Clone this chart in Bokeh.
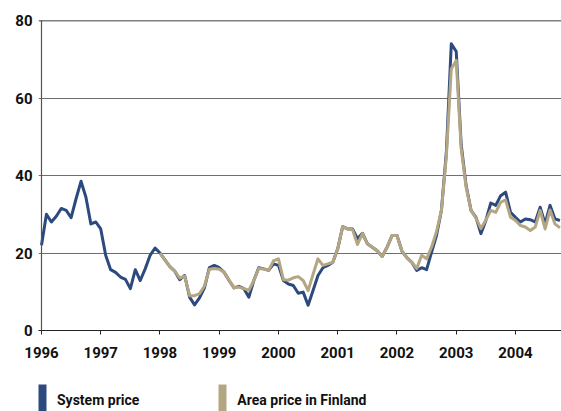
import numpy as np
from bokeh.plotting import figure
from bokeh.layouts import column
from bokeh.models import FixedTicker, Span, Legend, LegendItem, Range1d
from bokeh.embed import file_html
from bokeh.resources import INLINE

# ---- data ----
year_ticks = [1996, 1997, 1998, 1999, 2000, 2001, 2002, 2003, 2004]
year_labels = ["1996", "1997", "1998", "1999", "2000", "2001", "2002", "2003", "2004"]
value_ticks = [0, 20, 40, 60, 80]

system_start = 1996   # monthly series starts January 1996
system_price = [
    22, 30, 28, 29.5, 31.5, 31, 29.1, 34, 38.5, 34.4, 27.5, 28,          # 1996
    26.2, 19.4, 15.7, 15, 13.8, 13.2, 10.8, 15.7, 12.9, 15.9, 19.4, 21.3,  # 1997
    20, 18.2, 16.5, 15.3, 13.1, 14.2, 8.6, 6.6, 8.4, 11, 16.2, 16.8,       # 1998
    16.2, 15, 12.9, 11, 11.4, 10.8, 8.6, 12.9, 16.2, 15.9, 15.5, 17.2,     # 1999
    16.8, 12.9, 12, 11.6, 9.6, 9.9, 6.5, 10.3, 14.2, 16.2, 16.8, 17.6,     # 2000
    21.1, 26.8, 26.2, 26.2, 23.7, 25.1, 22.4, 21.5, 20.6, 19.1, 21.5, 24.5,  # 2001
    24.5, 20.5, 18.8, 17.6, 15.5, 16.2, 15.7, 20.2, 24.5, 31, 46, 74,     # 2002
    72, 48, 37.4, 31, 29.2, 25, 28.4, 32.9, 32.3, 34.8, 35.7, 30.5,       # 2003
    29.2, 28, 28.8, 28.6, 28, 31.8, 27.5, 32.3, 28.8, 28.4,               # 2004
]

area_start = 1998     # monthly series starts January 1998
area_price_finland = [
    20, 18.2, 16.5, 15.3, 13.5, 14, 9, 9, 9.5, 11.5, 15.8, 16,            # 1998
    15.8, 15, 13, 11, 11.2, 10.8, 10.4, 12.9, 16, 15.9, 15.5, 18,         # 1999
    18.5, 13.1, 13, 13.6, 13.9, 12.9, 10.3, 14.5, 18.5, 16.8, 17.2, 17.6,  # 2000
    21.1, 26.8, 26.2, 26, 22.2, 25, 22.4, 21.5, 20.6, 19.1, 21.5, 24.5,   # 2001
    24.5, 20.5, 18.8, 17.6, 16, 19.4, 18.5, 21.5, 25.5, 31, 45, 67.5,     # 2002
    69.7, 47, 37, 31, 29, 26.3, 28.5, 31, 30.5, 33.1, 33.7, 29.2,         # 2003
    28.4, 27.1, 26.7, 25.8, 26.7, 31, 26.2, 31.1, 27.5, 26.5,             # 2004
]

series_names = ["System price", "Area price in Finland"]

BLUE = "#2c4a7e"
TAN = "#b5a683"
FONT = "Roboto"

x_sys = [system_start + i / 12 for i in range(len(system_price))]
x_area = [area_start + i / 12 for i in range(len(area_price_finland))]

# ---- main chart ----
# frame spans page x 38..561; the value axis line sits at 1996 (3px inside)
p = figure(width=561, height=380, output_backend="svg", toolbar_location=None,
           x_range=Range1d(1995.9494, 2004.7768), y_range=Range1d(0, 80),
           min_border_left=38, min_border_right=0, min_border_top=20,
           min_border_bottom=50)
p.outline_line_color = None
p.background_fill_color = "white"
p.border_fill_color = "white"

p.xaxis.ticker = FixedTicker(ticks=year_ticks)
p.xaxis.major_label_overrides = {t: l for t, l in zip(year_ticks, year_labels)}
p.xaxis.major_tick_in = 0
p.xaxis.major_tick_out = 4
p.xaxis.minor_tick_line_color = None
p.xaxis.axis_line_color = "#222222"
p.xaxis.major_tick_line_color = "#222222"
p.xaxis.major_label_standoff = 12
p.xaxis.major_label_text_font = FONT
p.xaxis.major_label_text_font_style = "bold"
p.xaxis.major_label_text_font_size = "15px"
p.xaxis.major_label_text_color = "#111111"

p.yaxis.ticker = FixedTicker(ticks=value_ticks)
p.yaxis.major_tick_in = 0
p.yaxis.major_tick_out = 0
p.yaxis.minor_tick_line_color = None
p.yaxis.axis_line_color = None
p.yaxis.major_label_standoff = 6
p.yaxis.major_label_text_font = FONT
p.yaxis.major_label_text_font_style = "bold"
p.yaxis.major_label_text_font_size = "15px"
p.yaxis.major_label_text_color = "#111111"

p.xgrid.visible = False
p.ygrid.grid_line_color = "#6e6e6e"
p.ygrid.grid_line_width = 1

p.add_layout(Span(location=year_ticks[0], dimension="height", line_color="#555555", line_width=1.2))
p.add_layout(Span(location=value_ticks[-1], dimension="width", line_color="black", line_width=1.5))

p.line(x_sys, system_price, line_color=BLUE, line_width=3, line_join="round")
p.line(x_area, area_price_finland, line_color=TAN, line_width=3, line_join="round")

# ---- legend strip ----
leg = figure(width=561, height=31, output_backend="svg", toolbar_location=None,
             x_range=Range1d(0, 1), y_range=Range1d(0, 1),
             min_border_left=0, min_border_right=0, min_border_top=0,
             min_border_bottom=0)
leg.axis.visible = False
leg.grid.visible = False
leg.outline_line_color = None
leg.background_fill_color = "white"
leg.border_fill_color = "white"

r_sys = leg.vbar(x=[np.nan], top=[np.nan], width=0.1, fill_color=BLUE, line_color=None)
r_area = leg.vbar(x=[np.nan], top=[np.nan], width=0.1, fill_color=TAN, line_color=None)

legend = Legend(items=[LegendItem(label=series_names[0], renderers=[r_sys]),
                       LegendItem(label=series_names[1], renderers=[r_area])],
                orientation="horizontal", location=(-1, -9),
                glyph_width=10, glyph_height=40, label_standoff=10, spacing=78,
                padding=0, margin=0, border_line_color=None,
                background_fill_alpha=0,
                label_text_font=FONT, label_text_font_style="bold",
                label_text_font_size="14px", label_text_color="#111111")
leg.add_layout(legend, "center")

open("out.html", "w").write(file_html(column(p, leg, spacing=0), INLINE))
